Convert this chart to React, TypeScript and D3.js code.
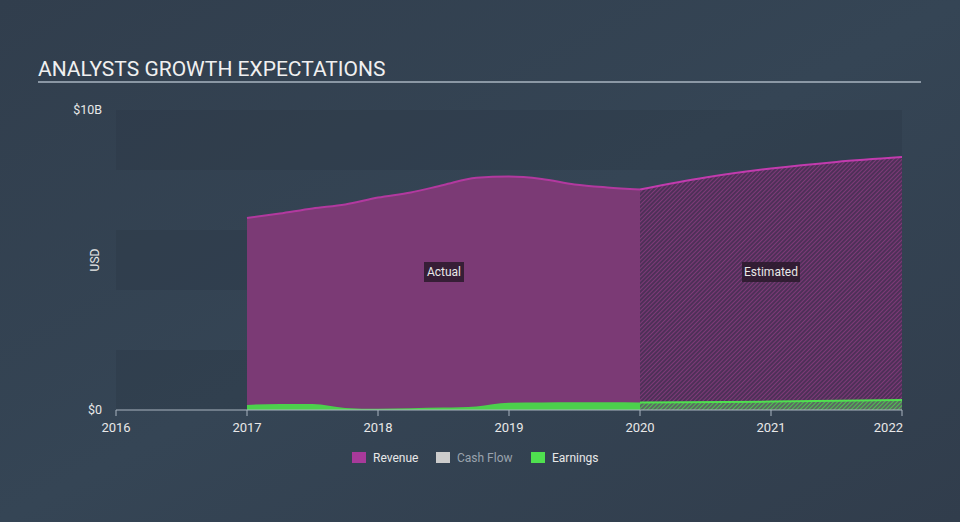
import React from "react";
import * as d3 from "d3";

const revenueYears = [2017, 2017.25, 2017.5, 2017.75, 2018, 2018.25, 2018.5, 2018.75, 2019, 2019.25, 2019.5, 2019.75, 2020];
const revenueValues = [6.4, 6.55, 6.72, 6.85, 7.08, 7.25, 7.5, 7.74, 7.78, 7.7, 7.52, 7.42, 7.35];
const revenueEstYears = [2020, 2020.5, 2021, 2021.5, 2022];
const revenueEstValues = [7.35, 7.75, 8.05, 8.27, 8.43];
const earningsYears = [2017, 2017.25, 2017.5, 2017.75, 2018, 2018.25, 2018.5, 2018.75, 2019, 2019.25, 2019.5, 2019.75, 2020];
const earningsValues = [0.17, 0.2, 0.2, 0.07, 0.04, 0.06, 0.08, 0.12, 0.24, 0.25, 0.26, 0.26, 0.25];
const earningsEstYears = [2020, 2021, 2022];
const earningsEstValues = [0.25, 0.28, 0.33];
const xTicks = [2016, 2017, 2018, 2019, 2020, 2021, 2022];
const legendItems = ["Revenue", "Cash Flow", "Earnings"];
const legendColors = ["#a83a9a", "#cccccc", "#4fe04f"];

export default function App() {
  const W = 960, H = 522;
  const x = d3.scaleLinear().domain([2016, 2022]).range([116, 902]);
  const y = d3.scaleLinear().domain([0, 10]).range([410, 110]);
  const area = d3.area<[number, number]>().x(d => x(d[0])).y0(y(0)).y1(d => y(d[1])).curve(d3.curveMonotoneX);
  const line = d3.line<[number, number]>().x(d => x(d[0])).y(d => y(d[1])).curve(d3.curveMonotoneX);
  const rev = revenueYears.map((t, i) => [t, revenueValues[i]] as [number, number]);
  const revE = revenueEstYears.map((t, i) => [t, revenueEstValues[i]] as [number, number]);
  const ear = earningsYears.map((t, i) => [t, earningsValues[i]] as [number, number]);
  const earE = earningsEstYears.map((t, i) => [t, earningsEstValues[i]] as [number, number]);
  const bands = [0, 4, 8];
  const font = "Roboto, 'Open Sans', sans-serif";
  return (
    <svg width={W} height={H} style={{ position: "absolute", left: 0, top: 0, display: "block" }}>
      <defs>
        <linearGradient id="bg" x1="0" y1="0" x2="1" y2="1">
          <stop offset="0" stopColor="#313e4d" />
          <stop offset="0.5" stopColor="#354555" />
          <stop offset="1" stopColor="#313d4c" />
        </linearGradient>
        <pattern id="hatchR" width="3" height="3" patternUnits="userSpaceOnUse" patternTransform="rotate(45)">
          <rect width="3" height="3" fill="#4e3058" />
          <line x1="0" y1="0" x2="0" y2="3" stroke="#7e3a78" strokeWidth="2" />
        </pattern>
        <pattern id="hatchG" width="3" height="3" patternUnits="userSpaceOnUse" patternTransform="rotate(45)">
          <rect width="3" height="3" fill="#5a6a62" />
          <line x1="0" y1="0" x2="0" y2="3" stroke="#4fd64f" strokeWidth="1.6" />
        </pattern>
      </defs>
      <rect width={W} height={H} fill="url(#bg)" />
      <text x={38} y={76} fill="#f0f0f0" fontSize={21} fontFamily={font}>ANALYSTS GROWTH EXPECTATIONS</text>
      <line x1={38} x2={921} y1={82} y2={82} stroke="#a9b4c0" strokeWidth={1.5} />
      {bands.map(b => (
        <rect key={b} x={x(2016)} width={x(2022) - x(2016)} y={y(b + 2)} height={y(b) - y(b + 2)} fill="#2a3645" opacity={0.35} />
      ))}
      <path d={area(rev) || ""} fill="#7b3a75" />
      <path d={area(revE) || ""} fill="url(#hatchR)" />
      <path d={line(rev) || ""} fill="none" stroke="#b2399f" strokeWidth={2} />
      <path d={line(revE) || ""} fill="none" stroke="#c23bae" strokeWidth={2} />
      <path d={area(ear) || ""} fill="#4cd04c" />
      <path d={area(earE) || ""} fill="url(#hatchG)" />
      <path d={line(earE) || ""} fill="none" stroke="#4fe04f" strokeWidth={2} />
      <line x1={x(2016)} x2={x(2022)} y1={y(0)} y2={y(0)} stroke="#a9b4c0" strokeWidth={1.2} />
      {xTicks.map((t, i) => (
        <g key={t}>
          <line x1={x(t)} x2={x(t)} y1={y(0)} y2={y(0) + 6} stroke="#a9b4c0" strokeWidth={1} />
          <text x={i === xTicks.length - 1 ? x(t) + 1 : x(t)} y={y(0) + 22} fill="#e8e8e8" fontSize={13}
            textAnchor={i === xTicks.length - 1 ? "end" : "middle"} fontFamily={font}>{t}</text>
        </g>
      ))}
      <text x={102} y={y(10) + 4} fill="#e8e8e8" fontSize={12.5} textAnchor="end" fontFamily={font}>$10B</text>
      <text x={102} y={y(0) + 4} fill="#e8e8e8" fontSize={12.5} textAnchor="end" fontFamily={font}>$0</text>
      <text transform={`translate(99,${y(5)}) rotate(-90)`} fill="#e8e8e8" fontSize={12} textAnchor="middle" fontFamily={font}>USD</text>
      <g>
        <rect x={424} y={262} width={40} height={20} fill="#2a1a2c" opacity={0.85} />
        <text x={444} y={276} fill="#e8e8e8" fontSize={12} textAnchor="middle" fontFamily={font}>Actual</text>
        <rect x={742} y={262} width={58} height={20} fill="#2a1a2c" opacity={0.85} />
        <text x={771} y={276} fill="#e8e8e8" fontSize={12} textAnchor="middle" fontFamily={font}>Estimated</text>
      </g>
      {legendItems.map((name, i) => {
        const lx = [352, 436, 531][i];
        return (
          <g key={name}>
            <rect x={lx} y={452} width={14} height={11} fill={legendColors[i]} />
            <text x={lx + 21} y={462} fill={i === 1 ? "#9aa3ad" : "#e8e8e8"} fontSize={12} fontFamily={font}>{name}</text>
          </g>
        );
      })}
    </svg>
  );
}
